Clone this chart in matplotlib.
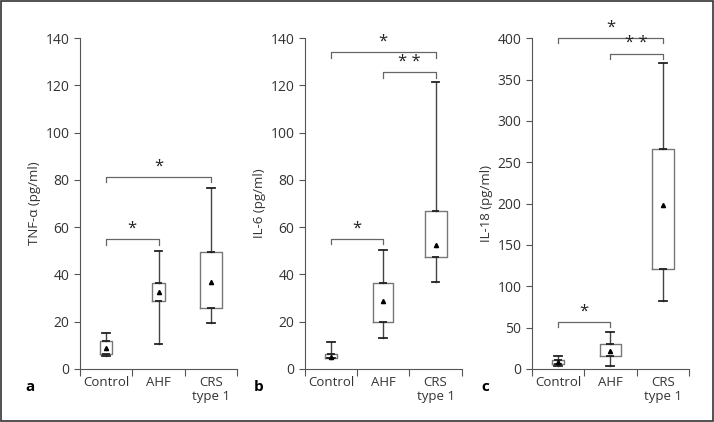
import matplotlib
matplotlib.use("Agg")
import matplotlib.pyplot as plt
from matplotlib.patches import Rectangle

plt.rcParams['font.family'] = ['Open Sans', 'DejaVu Sans']

groups = ["Control", "AHF", "CRS\ntype 1"]

# per panel: whislo, q1, q3, whishi, mean for each group
tnf_lo = [5.3, 10.5, 19.4]
tnf_q1 = [6.3, 28.8, 25.8]
tnf_q3 = [12.0, 36.6, 49.5]
tnf_hi = [15.4, 50.0, 76.7]
tnf_mean = [8.8, 32.6, 36.8]

il6_lo = [4.5, 13.3, 36.9]
il6_q1 = [4.6, 19.9, 47.4]
il6_q3 = [6.3, 36.2, 66.9]
il6_hi = [11.5, 50.3, 121.5]
il6_mean = [4.9, 28.7, 52.3]

il18_lo = [4.0, 4.0, 81.7]
il18_q1 = [5.6, 16.1, 120.8]
il18_q3 = [10.5, 30.2, 266.5]
il18_hi = [15.2, 44.3, 369.8]
il18_mean = [8.5, 22.0, 198.5]

# significance brackets: (group i, group j, height, label)
tnf_sig = [(0, 1, 54.9, "*"), (0, 2, 81.3, "*")]
il6_sig = [(0, 1, 55.0, "*"), (0, 2, 134.0, "*"), (1, 2, 125.6, "* *")]
il18_sig = [(0, 1, 56.6, "*"), (0, 2, 400.0, "*"), (1, 2, 381.4, "* *")]

panels = [
    dict(lo=tnf_lo, q1=tnf_q1, q3=tnf_q3, hi=tnf_hi, mean=tnf_mean, sig=tnf_sig,
         ylabel="TNF-α (pg/ml)", ymax=140, step=20, letter="a", letter_x=0.036,
         widths=[0.23, 0.23, 0.42], rect=[0.112, 0.1256, 0.22, 0.784], drop=2.3),
    dict(lo=il6_lo, q1=il6_q1, q3=il6_q3, hi=il6_hi, mean=il6_mean, sig=il6_sig,
         ylabel="IL-6 (pg/ml)", ymax=140, step=20, letter="b", letter_x=0.355,
         widths=[0.23, 0.38, 0.42], rect=[0.427, 0.1256, 0.2196, 0.784], drop=2.3),
    dict(lo=il18_lo, q1=il18_q1, q3=il18_q3, hi=il18_hi, mean=il18_mean, sig=il18_sig,
         ylabel="IL-18 (pg/ml)", ymax=400, step=50, letter="c", letter_x=0.674,
         widths=[0.23, 0.40, 0.42], rect=[0.7447, 0.1256, 0.2203, 0.784], drop=6.2),
]

fig = plt.figure(figsize=(7.14, 4.22), dpi=100)
fig.patches.append(Rectangle((0.001, 0.002), 0.998, 0.996, transform=fig.transFigure,
                             fill=False, edgecolor="#333333", linewidth=1.2))

axis_col = "#555555"
box_col = "#777777"
dark = "#222222"

for p in panels:
    ax = fig.add_axes(p["rect"])
    stats = []
    for k in range(3):
        stats.append(dict(whislo=p["lo"][k], q1=p["q1"][k], med=p["q1"][k],
                          q3=p["q3"][k], whishi=p["hi"][k], mean=p["mean"][k]))
    pos = list(range(3))
    ax.bxp(stats, positions=pos, widths=p["widths"], showmeans=True, showfliers=False,
           manage_ticks=False, capwidths=0.15,
           boxprops=dict(color=box_col, linewidth=1.0),
           whiskerprops=dict(color="#444444", linewidth=1.0),
           capprops=dict(color=dark, linewidth=1.3),
           medianprops=dict(linewidth=0),
           meanprops=dict(marker="^", markerfacecolor="black", markeredgecolor="black",
                          markersize=3))
    # short dark marks at the quartiles
    for k in range(3):
        ax.hlines([p["q1"][k], p["q3"][k]], k - 0.075, k + 0.075, color=dark, linewidth=1.3)

    for i, j, h, lab in p["sig"]:
        ax.plot([i, i, j, j], [h - p["drop"], h, h, h - p["drop"]], color="#666666",
                linewidth=0.9, clip_on=False)
        ax.text((i + j) / 2, h + p["drop"] * 0.4, lab, ha="center", va="bottom",
                fontsize=12, color="#222222", clip_on=False)

    ax.set_xlim(-0.5, 2.5)
    ax.set_ylim(0, p["ymax"])
    ax.set_yticks(range(0, p["ymax"] + 1, p["step"]))
    ax.set_xticks([-0.5, 0.5, 1.5, 2.5])
    ax.set_xticklabels([])
    ax.set_xticks(pos, minor=True)
    ax.set_xticklabels(groups, minor=True, linespacing=1.1)
    ax.tick_params(axis="x", which="minor", length=0, pad=5, labelsize=9.5, colors="#333333")
    ax.tick_params(axis="x", which="major", length=5, color=axis_col)
    ax.tick_params(axis="y", length=4, color=axis_col, labelsize=10, labelcolor="#333333")
    for s in ["top", "right"]:
        ax.spines[s].set_visible(False)
    for s in ["left", "bottom"]:
        ax.spines[s].set_color(axis_col)
    ax.set_ylabel(p["ylabel"], fontsize=9.5, color="#333333", labelpad=3)
    fig.text(p["letter_x"], 0.083, p["letter"],
             fontsize=11, fontweight="bold", ha="left", va="center")

fig.savefig("out.png", dpi=100)
